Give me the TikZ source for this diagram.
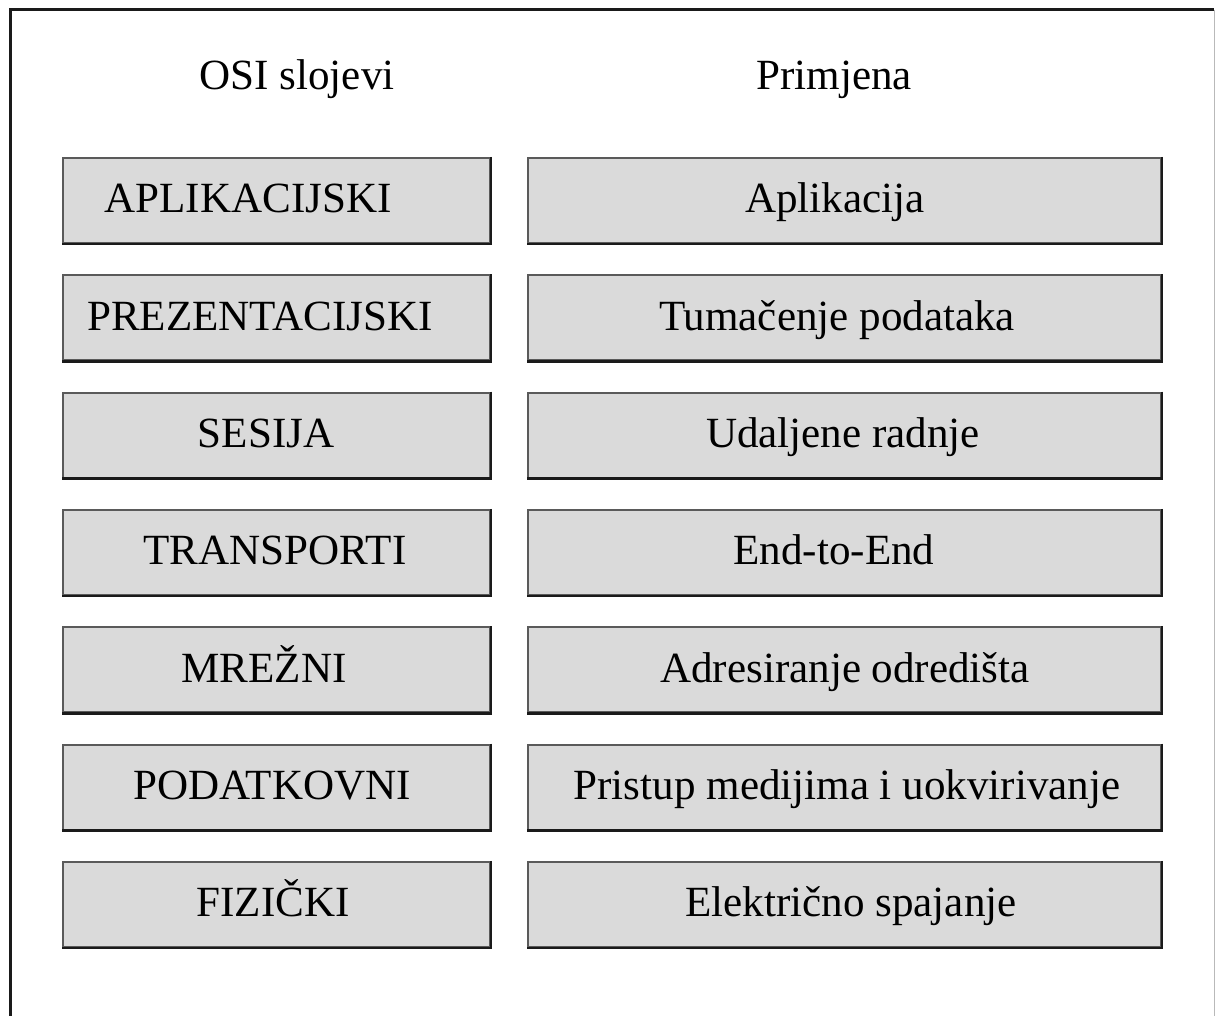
\documentclass[tikz,border=0pt]{standalone}
\usepackage{fontspec}
\setmainfont{Liberation Serif}
\definecolor{boxgray}{HTML}{DADADA}
\definecolor{edgegray}{HTML}{5A5A5A}
\definecolor{framedark}{HTML}{1A1A1A}
\tikzset{
  layer/.style={draw=edgegray,line width=1.5pt,fill=boxgray,inner sep=0pt,minimum height=63.75pt},
  layershade/.style={draw=framedark,line width=2pt},
  lbl/.style={anchor=base,inner sep=0pt,font=\fontsize{32.3}{38}\selectfont}
}

\begin{document}
\begin{tikzpicture}[x=0.75pt,y=-0.75pt]
\useasboundingbox (0,0) rectangle (1216,1016);
\draw[framedark,line width=2.25pt] (10,1016) -- (10,10) -- (1214,10);
\draw[gray!55,line width=1pt] (1214.5,10) -- (1214.5,1016);

\node[lbl] (osi) at (297,90) {OSI slojevi};
\node[lbl] (prim) at (834,90) {Primjena};

\foreach \i/\lx/\ltxt/\rx/\rtxt in {
  1/248/APLIKACIJSKI/835/Aplikacija,
  2/260/PREZENTACIJSKI/837/Tumačenje podataka,
  3/266/SESIJA/843/Udaljene radnje,
  4/275/TRANSPORTI/834/End-to-End,
  5/264/MREŽNI/845/Adresiranje odredišta,
  6/272/PODATKOVNI/847/Pristup medijima i uokvirivanje,
  7/273/FIZIČKI/851/Električno spajanje}{
  \pgfmathsetmacro\yt{158+117.33*(\i-1)}
  \node[layer,minimum width=320pt] (l\i) at (276.5,\yt+42.5) {};
  \node[layer,minimum width=474.5pt] (r\i) at (844.5,\yt+42.5) {};
  \draw[layershade] (l\i.north east) -- (l\i.south east) -- (l\i.south west);
  \draw[layershade] (r\i.north east) -- (r\i.south east) -- (r\i.south west);
  \node[lbl] (lt\i) at (\lx,\yt+55) {\ltxt};
  \node[lbl] (rt\i) at (\rx,\yt+55) {\rtxt};
}
\end{tikzpicture}
\end{document}
